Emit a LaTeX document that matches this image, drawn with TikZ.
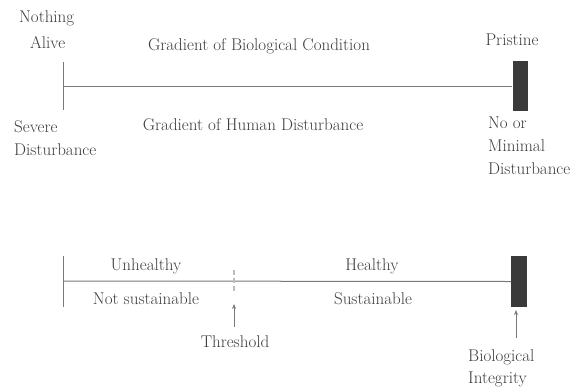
\documentclass[tikz,border=0pt]{standalone}
\usetikzlibrary{arrows.meta}
\definecolor{txt}{HTML}{3C3C3C}
\definecolor{ln}{HTML}{7A7A7A}
\definecolor{bar}{HTML}{3A3A3A}
\begin{document}
\begin{tikzpicture}[x=1pt,y=-1pt,
  lbl/.style={text=txt,font=\fontsize{17}{21}\selectfont,inner sep=0pt,align=left},
  axis/.style={draw=ln,line width=1pt},
  tick/.style={draw=ln,line width=1pt},
  barbox/.style={fill=bar,draw=none},
  pointer/.style={draw=ln,line width=1pt,-{Stealth[length=5pt,width=4pt]}}]
\useasboundingbox (0,0) rectangle (585,391);
% top scale
\coordinate (t0) at (63,86);
\coordinate (tt) at (63,62);
\coordinate (tb) at (63,110);
\node[barbox,minimum width=15pt,minimum height=50pt,inner sep=0pt] (tbar) at (520,86) {};
\draw[tick] (tt) -- (tb);
\draw[axis] (t0) -- (tbar.west);
\node[lbl,anchor=west] (nothing) at (19,18) {Nothing};
\node[lbl,anchor=west] (alive) at (30,43) {Alive};
\node[lbl] (gbio) at (259,46) {Gradient of Biological Condition};
\node[lbl] (pristine) at (512,40) {Pristine};
\node[lbl,anchor=west] (severe) at (14,127) {Severe};
\node[lbl,anchor=west] (sdist) at (14,150) {Disturbance};
\node[lbl] (ghum) at (253,125) {Gradient of Human Disturbance};
\node[lbl,anchor=west] (noor) at (488,123) {No or};
\node[lbl,anchor=west] (minimal) at (488,146) {Minimal};
\node[lbl,anchor=west] (mdist) at (488,169) {Disturbance};
% bottom scale
\coordinate (b0) at (63,281);
\coordinate (bt) at (63,256);
\coordinate (bb) at (63,307);
\node[barbox,minimum width=16pt,minimum height=51pt,inner sep=0pt] (bbar) at (519,281.5) {};
\draw[tick] (bt) -- (bb);
\draw[axis] (b0) -- (bbar.west);
\coordinate (thtop) at (234,270);
\coordinate (thbot) at (234,292);
\draw[draw=ln!50,line width=2pt,dash pattern=on 5pt off 3pt] (thtop) -- (thbot);
\node[lbl] (unhealthy) at (146,266) {Unhealthy};
\node[lbl] (healthy) at (372,266) {Healthy};
\node[lbl] (notsust) at (146,299) {Not sustainable};
\node[lbl] (sust) at (373,299) {Sustainable};
\node[lbl] (threshold) at (235,342) {Threshold};
\node[lbl,anchor=west] (bio) at (468,357) {Biological};
\node[lbl,anchor=west] (integ) at (468,379) {Integrity};
\coordinate (thtail) at (234,327);
\coordinate (thtip) at (234,304);
\coordinate (bitail) at (516,338);
\coordinate (bitip) at (516,310);
\draw[pointer] (thtail) -- (thtip);
\draw[pointer] (bitail) -- (bitip);
\end{tikzpicture}
\end{document}
